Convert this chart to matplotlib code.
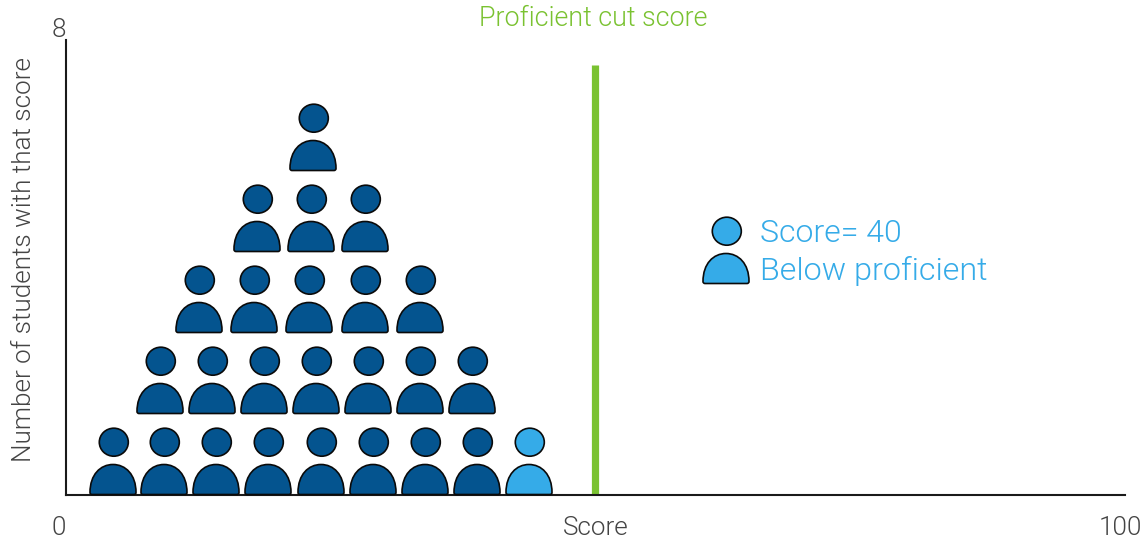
import numpy as np
import matplotlib
matplotlib.use("Agg")
import matplotlib.pyplot as plt
from matplotlib.path import Path
from matplotlib.transforms import ScaledTranslation, Affine2D

# Data
row_levels = [0.02, 1.44, 2.87, 4.29, 5.71]
row_scores = [
    [4.4, 9.3, 14.2, 19.1, 24.1, 29.0, 33.9, 38.8],
    [8.9, 13.8, 18.7, 23.6, 28.5, 33.4, 38.3],
    [12.55, 17.75, 22.9, 28.2, 33.4],
    [18.0, 23.1, 28.2],
    [23.3],
]
highlight_score = [43.7]
highlight_level = [0.02]
legend_score = [62.3]
legend_level = [3.73]
cut_score = 49.95
cut_top = 7.56
x_ticks = [0, 50, 100]
x_labels = ["0", "Score", "100"]
y_ticks = [8]
y_labels = ["8"]

DARK = "#04548F"
LIGHT = "#35ABE8"
GREEN = "#7AC231"
INK = "#1A1A1A"
GREY = "#444444"
FONT = "Roboto"

plt.rcParams["font.family"] = [FONT, "DejaVu Sans"]
plt.rcParams["font.weight"] = 300

fig = plt.figure(figsize=(11.45, 5.39), dpi=100)
ax = fig.add_axes([66 / 1145, (539 - 495) / 539, 1059 / 1145, 455 / 539])
ax.set_xlim(0, 100)
ax.set_ylim(0, 8)

# Person glyph, origin at the middle of its base
head = Path.unit_circle().transformed(Affine2D().scale(14.5, 14).translate(0.3, 52.3))
dome_v = [
    (-21.5, 0), (-23.5, 0), (-23.5, 2),
    (-23.5, 20), (-13, 30), (-0.5, 30),
    (12, 30), (22.5, 20), (22.5, 2),
    (22.5, 0), (20.5, 0), (20.5, 0),
    (-21.5, 0), (-21.5, 0),
]
dome_c = [Path.MOVETO, Path.CURVE3, Path.CURVE3,
          Path.CURVE4, Path.CURVE4, Path.CURVE4,
          Path.CURVE4, Path.CURVE4, Path.CURVE4,
          Path.CURVE3, Path.CURVE3, Path.LINETO,
          Path.LINETO, Path.CLOSEPOLY]
dome = Path(dome_v, dome_c)
person = Path.make_compound_path(head, dome)
R = np.abs(person.vertices).max()
size = (2 * R * 72 / fig.dpi) ** 2

for level, scores in zip(row_levels, row_scores):
    ax.scatter(scores, [level] * len(scores), marker=person, s=size, c=DARK,
               edgecolors="#0A0A0A", linewidths=1.2, clip_on=False, zorder=3)
ax.scatter(highlight_score, highlight_level, marker=person, s=size, c=LIGHT,
           edgecolors="#0A0A0A", linewidths=1.2, clip_on=False, zorder=3)
ax.scatter(legend_score, legend_level, marker=person, s=size, c=LIGHT,
           edgecolors="#0A0A0A", linewidths=1.2, clip_on=False, zorder=3)

ax.plot([cut_score, cut_score], [0, cut_top], color=GREEN, lw=5.2,
        solid_capstyle="butt", zorder=2)

for side in ("top", "right"):
    ax.spines[side].set_visible(False)
for side in ("left", "bottom"):
    ax.spines[side].set_color(INK)
    ax.spines[side].set_linewidth(1.5)

ax.set_xticks(x_ticks, x_labels)
ax.set_yticks(y_ticks, y_labels)
ax.tick_params(axis="both", length=0, labelsize=18.8, labelcolor=GREY)
ax.tick_params(axis="x", pad=15)
ax.tick_params(axis="y", pad=0)

def shift(label, dx, dy):
    label.set_transform(label.get_transform() +
                        ScaledTranslation(dx / fig.dpi, dy / fig.dpi, fig.dpi_scale_trans))
xl = ax.get_xticklabels()
shift(xl[0], -7, 0)
shift(xl[2], -5, 0)
yl = ax.get_yticklabels()
shift(yl[0], 0, 13)

fig.text(24 / 1145, 1 - 260 / 539, "Number of students with that score", rotation=90,
         ha="center", va="center", fontsize=18.8, color=GREY)
fig.text(593 / 1145, 1 - 19 / 539, "Proficient cut score", ha="center", va="center",
         fontsize=19.4, color=GREEN)
fig.text(760 / 1145, 1 - 233 / 539, "Score= 40", ha="left", va="center",
         fontsize=23, color=LIGHT)
fig.text(760 / 1145, 1 - 271 / 539, "Below proficient", ha="left", va="center",
         fontsize=23.2, color=LIGHT)

fig.savefig("out.png", dpi=100, facecolor="white")
